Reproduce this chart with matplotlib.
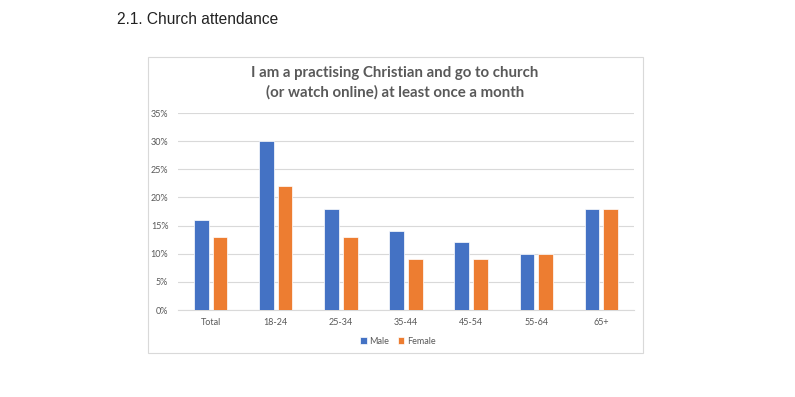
import numpy as np
import matplotlib
matplotlib.use("Agg")
import matplotlib.pyplot as plt
from matplotlib.patches import Rectangle
from matplotlib.ticker import PercentFormatter

# Data
groups = ["Total", "18-24", "25-34", "35-44", "45-54", "55-64", "65+"]
male = [16, 30, 18, 14, 12, 10, 18]
female = [13, 22, 13, 9, 9, 10, 18]
yticks = [0, 5, 10, 15, 20, 25, 30, 35]

W, H = 795, 397
BLUE = "#4472C4"
ORANGE = "#ED7D31"
GREY_TXT = "#595959"

plt.rcParams["font.family"] = ["Lato", "DejaVu Sans"]

fig = plt.figure(figsize=(W / 100, H / 100), dpi=100)

# page heading
fig.text(117 / W, 1 - 20 / H, "2.1. Church attendance", fontsize=11.2,
         color="#222222", va="center", ha="left", family=["Liberation Sans", "DejaVu Sans"])

# chart frame
fig.patches.append(Rectangle((148 / W, 1 - 353 / H), (643 - 148) / W, (353 - 57) / H,
                             transform=fig.transFigure, fill=False,
                             edgecolor="#D9D9D9", linewidth=0.8))

# chart title
fig.text(395 / W, 1 - 83 / H,
         "I am a practising Christian and go to church\n(or watch online) at least once a month",
         fontsize=10.8, color=GREY_TXT, ha="center", va="center", fontweight="bold",
         linespacing=1.4)

ax = fig.add_axes([178 / W, 1 - 310 / H, (634 - 178) / W, (310 - 113) / H])

x = np.arange(len(groups))
bw = 0.225
off = 0.143
ax.bar(x - off, male, bw, color=BLUE, edgecolor="white", linewidth=0.5, label="Male", zorder=3)
ax.bar(x + off, female, bw, color=ORANGE, edgecolor="white", linewidth=0.5, label="Female", zorder=3)

ax.set_xlim(-0.5, len(groups) - 0.5)
ax.set_ylim(0, 35)
ax.set_yticks(yticks)
ax.yaxis.set_major_formatter(PercentFormatter(decimals=0))
ax.set_xticks(x)
ax.set_xticklabels(groups)
ax.grid(axis="y", color="#D9D9D9", linewidth=0.8, zorder=0)
for s in ["top", "right", "left"]:
    ax.spines[s].set_visible(False)
ax.spines["bottom"].set_color("#D9D9D9")
ax.spines["bottom"].set_linewidth(0.8)
ax.tick_params(axis="both", length=0, labelsize=6.5, labelcolor=GREY_TXT)
ax.tick_params(axis="y", pad=7)
ax.tick_params(axis="x", pad=6)

ax.legend(loc="center", bbox_to_anchor=(398 / W, 1 - 341 / H), bbox_transform=fig.transFigure,
          ncol=2, frameon=False, fontsize=6.5, labelcolor=GREY_TXT,
          handlelength=0.7, handleheight=0.7, handletextpad=0.3, columnspacing=1.0)

fig.savefig("out.png", dpi=100)
